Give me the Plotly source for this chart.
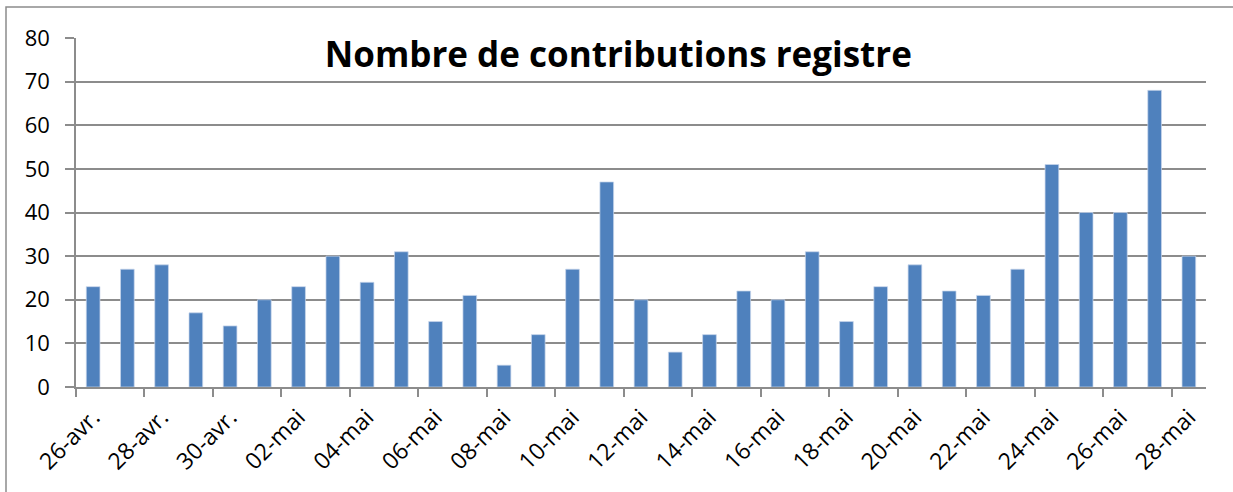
import plotly.graph_objects as go

days = ["26-avr.", "27-avr.", "28-avr.", "29-avr.", "30-avr.",
        "01-mai", "02-mai", "03-mai", "04-mai", "05-mai", "06-mai", "07-mai",
        "08-mai", "09-mai", "10-mai", "11-mai", "12-mai", "13-mai", "14-mai",
        "15-mai", "16-mai", "17-mai", "18-mai", "19-mai", "20-mai", "21-mai",
        "22-mai", "23-mai", "24-mai", "25-mai", "26-mai", "27-mai", "28-mai"]
contributions = [23, 27, 28, 17, 14, 20, 23, 30, 24, 31, 15, 21, 5, 12, 27, 47,
                 20, 8, 12, 22, 20, 31, 15, 23, 28, 22, 21, 27, 51, 40, 40, 68, 30]
title_text = "Nombre de contributions registre"
y_ticks = [0, 10, 20, 30, 40, 50, 60, 70, 80]

idx = list(range(len(days)))
label_pos = idx[::2]
label_txt = days[::2]
boundary_ticks = [i - 0.5 for i in label_pos]

FONT = "'Open Sans', 'Liberation Sans', sans-serif"
GRID = "#8c8c8c"

fig = go.Figure()
fig.add_trace(go.Bar(
    x=idx, y=contributions,
    marker=dict(color="#4F81BD", line=dict(color="rgba(200,215,235,0.9)", width=0.8)),
    width=0.4,
))

fig.update_layout(
    width=1233, height=492,
    margin=dict(l=76, r=27, t=38, b=105),
    paper_bgcolor="white", plot_bgcolor="white",
    showlegend=False,
    font=dict(family=FONT, size=22, color="black"),
    title=dict(text="<b>" + title_text + "</b>", x=0.5015, xanchor="center",
               y=1 - 55/492, yref="container", yanchor="middle",
               font=dict(family=FONT, size=35, color="black")),
    shapes=[dict(type="rect", xref="paper", yref="paper",
                 x0=-70/1130, x1=1.1, y0=-0.5, y1=1 + 31/349,
                 line=dict(color="#8c8c8c", width=1.5), layer="below")],
)

fig.update_xaxes(
    range=[-0.5, len(days) - 0.5],
    tickmode="array", tickvals=label_pos, ticktext=label_txt,
    tickangle=-45, ticks="", showgrid=False,
    showline=True, linecolor=GRID, linewidth=1.5,
    tickfont=dict(family=FONT, size=23, color="black"),
    ticklabelstandoff=6,
    minor=dict(tickmode="array", tickvals=boundary_ticks, ticks="outside",
               ticklen=8, tickcolor=GRID, tickwidth=1.5, showgrid=False),
    zeroline=False, automargin=False,
)
fig.update_yaxes(
    range=[0, 80], tickmode="array", tickvals=y_ticks,
    ticks="outside", ticklen=9, tickcolor=GRID, tickwidth=1.5,
    showgrid=True, gridcolor=GRID, gridwidth=1.5,
    showline=True, linecolor=GRID, linewidth=1.5,
    zeroline=False, ticklabelstandoff=11, automargin=False,
    tickfont=dict(family=FONT, size=22, color="black"),
)

fig.write_html("out.html", config={"displayModeBar": False},
               post_script="document.body.style.margin='0';document.body.style.overflow='hidden';")
